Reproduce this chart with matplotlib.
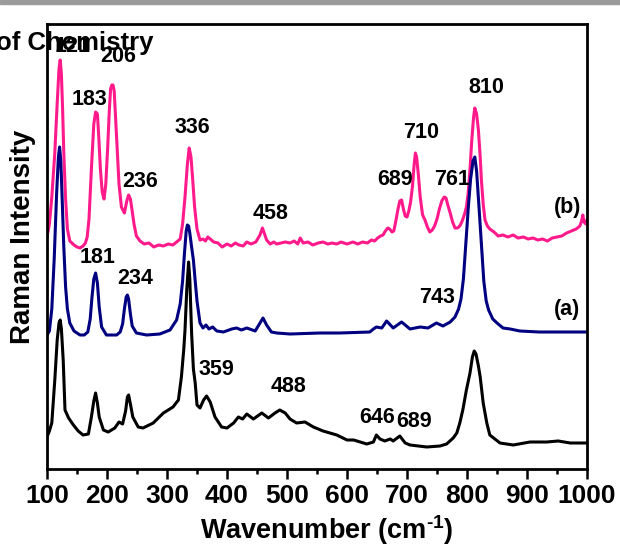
"""Raman spectra of the three samples, redrawn from the published figure."""

import matplotlib

matplotlib.use("Agg")
import matplotlib.pyplot as plt
from matplotlib.patches import Rectangle

plt.rcParams["font.family"] = ["Liberation Sans", "DejaVu Sans"]
plt.rcParams["font.weight"] = "bold"
plt.rcParams["mathtext.fontset"] = "custom"
plt.rcParams["mathtext.rm"] = "Liberation Sans:bold"
plt.rcParams["mathtext.bf"] = "Liberation Sans:bold"
plt.rcParams["mathtext.default"] = "bf"

# (wavenumber, intensity), intensity in arbitrary offset units
black_pts = [
    (100, 32), (104, 38), (108, 46), (113, 89), (117, 129), (120, 146), (122, 149),
    (124, 140), (127, 109), (130, 59), (136, 51), (144, 44), (152, 38), (160, 34),
    (169, 35), (174, 52), (178, 68), (181, 76), (184, 66), (187, 52), (194, 39),
    (202, 37), (213, 41), (220, 47), (226, 45), (231, 58), (234, 72), (236, 74),
    (239, 65), (243, 52), (252, 42), (260, 41), (277, 46), (294, 56), (310, 62),
    (319, 69), (324, 92), (328, 120), (330, 139), (333, 180), (336, 207), (338, 190),
    (341, 136), (344, 100), (347, 86), (350, 64), (355, 61), (361, 69), (366, 73),
    (372, 67), (380, 52), (391, 42), (400, 41), (411, 46), (419, 52), (426, 50),
    (433, 55), (444, 50), (458, 56), (469, 51), (480, 56), (488, 59), (497, 56),
    (505, 50), (516, 46), (530, 47), (544, 42), (560, 38), (583, 34), (600, 29),
    (611, 29), (633, 25), (644, 27), (649, 34), (655, 30), (663, 28), (672, 30),
    (677, 28), (688, 33), (697, 26), (705, 24), (733, 22), (755, 23), (766, 25),
    (777, 31), (783, 36), (788, 46), (793, 59), (799, 79), (805, 96), (809, 112),
    (812, 118), (815, 115), (819, 103), (822, 92), (827, 66), (833, 46), (838, 34),
    (855, 26), (877, 24), (905, 27), (933, 27), (952, 28), (972, 26), (1000, 26),
]

navy_pts = [
    (100, 134), (104, 138), (108, 160), (112, 210), (116, 275), (119, 312), (121, 322),
    (123, 308), (125, 275), (128, 222), (131, 182), (134, 160), (138, 146), (145, 138),
    (155, 134), (162, 134), (168, 137), (172, 150), (175, 172), (178, 190), (181, 196),
    (184, 186), (187, 162), (191, 142), (199, 134), (216, 134), (222, 137), (226, 145),
    (229, 160), (232, 172), (234, 174), (236, 170), (239, 155), (242, 143), (249, 136),
    (266, 134), (288, 135), (305, 139), (316, 149), (322, 165), (326, 188), (329, 215),
    (332, 238), (334, 244), (336, 243), (338, 236), (341, 222), (344, 209), (347, 188),
    (350, 168), (355, 146), (360, 141), (365, 144), (370, 140), (376, 142), (383, 138),
    (394, 137), (408, 140), (416, 141), (424, 139), (433, 141), (447, 138), (455, 146),
    (460, 151), (466, 144), (474, 137), (483, 136), (505, 135), (555, 136), (588, 136),
    (638, 137), (644, 140), (649, 142), (658, 141), (666, 148), (677, 141), (691, 147),
    (705, 140), (722, 142), (735, 141), (749, 146), (760, 143), (772, 147), (780, 152),
    (786, 160), (790, 170), (794, 190), (798, 225), (802, 260), (806, 290), (810, 308),
    (813, 312), (816, 298), (820, 262), (824, 225), (828, 188), (832, 168), (836, 159),
    (843, 150), (850, 146), (860, 141), (872, 140), (888, 138), (920, 137), (960, 137),
    (1000, 137),
]

pink_pts = [
    (100, 232), (104, 245), (108, 272), (113, 316), (117, 366), (120, 400), (122, 409),
    (124, 395), (126, 360), (128, 316), (131, 270), (134, 240), (138, 228), (145, 224),
    (150, 222), (155, 221), (160, 223), (164, 226), (167, 232), (170, 250), (174, 300),
    (178, 345), (181, 357), (184, 355), (186, 335), (189, 300), (192, 277), (195, 270),
    (198, 285), (201, 320), (204, 360), (206, 380), (208, 384), (210, 384), (212, 378),
    (214, 355), (217, 320), (220, 285), (224, 262), (229, 256), (233, 268), (236, 274),
    (239, 270), (242, 258), (245, 245), (249, 233), (255, 228), (262, 225), (270, 226),
    (278, 222), (286, 224), (294, 223), (302, 225), (310, 224), (316, 227), (322, 230),
    (326, 245), (330, 272), (334, 305), (337, 321), (340, 312), (343, 288), (346, 262),
    (350, 240), (355, 229), (360, 230), (364, 228), (368, 232), (372, 230), (378, 227),
    (385, 226), (392, 222), (400, 225), (407, 223), (414, 226), (420, 224), (427, 223),
    (433, 227), (440, 225), (448, 227), (455, 234), (459, 241), (462, 236), (466, 229),
    (472, 225), (478, 227), (483, 225), (490, 226), (497, 227), (505, 226), (512, 228),
    (518, 225), (522, 231), (527, 226), (535, 227), (543, 224), (552, 226), (560, 227),
    (568, 225), (575, 226), (583, 225), (590, 227), (600, 225), (610, 227), (618, 225),
    (626, 227), (634, 226), (641, 229), (646, 228), (651, 231), (656, 233), (660, 234),
    (664, 238), (668, 241), (671, 240), (675, 237), (678, 238), (682, 250), (685, 260),
    (688, 268), (691, 269), (694, 260), (697, 253), (700, 252), (703, 258), (706, 267),
    (709, 282), (712, 305), (714, 316), (716, 312), (719, 294), (722, 272), (726, 254),
    (730, 249), (734, 242), (738, 237), (742, 239), (746, 243), (750, 250), (754, 260),
    (758, 268), (762, 272), (765, 271), (768, 264), (772, 256), (776, 247), (780, 241),
    (784, 241), (788, 243), (792, 248), (796, 255), (799, 262), (802, 276), (805, 300),
    (808, 329), (811, 352), (813, 361), (816, 355), (819, 339), (822, 312), (824, 289),
    (827, 265), (830, 249), (834, 243), (838, 240), (845, 237), (852, 233), (860, 234),
    (868, 232), (877, 234), (885, 231), (894, 232), (902, 230), (910, 231), (918, 229),
    (926, 230), (934, 228), (942, 231), (950, 232), (958, 233), (966, 236), (974, 238),
    (982, 240), (988, 243), (991, 248), (993, 254), (995, 247), (998, 245), (1000, 249),
]

peak_labels = ["121", "206", "183", "236", "336", "458", "181", "234", "710", "689",
               "761", "810", "743", "359", "488", "646", "689"]
peak_label_x = [143, 219, 171, 255, 343, 472, 185, 247, 723, 680,
                775, 833, 750, 382, 503, 650, 712]
peak_label_y = [417, 407, 364, 282, 336, 250, 206, 185, 331, 284,
                284, 376, 166, 94, 77, 46, 42]

series_labels = ["(b)", "(a)"]
series_label_x = [967, 967]
series_label_y = [261, 159]


def main():
    fig = plt.figure(figsize=(6.2, 5.47), dpi=100)
    ax = fig.add_axes([47 / 620, 1 - 469 / 547, 540 / 620, 445 / 547])

    for pts, color, z in [(pink_pts, "#ff1a8c", 1), (navy_pts, "#000080", 2), (black_pts, "black", 3)]:
        xs = [p[0] for p in pts]
        ys = [p[1] for p in pts]
        ax.plot(xs, ys, color=color, lw=2.2, zorder=z, solid_joinstyle="round")

    ax.set_xlim(100, 1000)
    ax.set_ylim(0, 445)
    ax.set_yticks([])
    ax.set_xticks(range(100, 1001, 100))
    ax.set_xticks(range(150, 1000, 100), minor=True)
    ax.tick_params(axis="x", which="major", direction="out", length=7, width=1.8,
                   labelsize=19, pad=4)
    ax.tick_params(axis="x", which="minor", direction="out", length=3.5, width=1.8)
    for spine in ax.spines.values():
        spine.set_linewidth(2)

    ax.set_xlabel(r"Wavenumber (cm$^{\text{-1}}$)", fontsize=19.5, fontweight="bold")
    ax.xaxis.set_label_coords(0.518, -0.1)
    ax.set_ylabel("Raman Intensity", fontsize=20, fontweight="bold")
    ax.yaxis.set_label_coords(-0.02, 0.521)

    for text, x, y in zip(peak_labels, peak_label_x, peak_label_y):
        ax.text(x, y, text, ha="center", va="baseline", fontsize=15.5, fontweight="bold", zorder=5)
    for text, x, y in zip(series_labels, series_label_x, series_label_y):
        ax.text(x, y, text, ha="center", va="center", fontsize=15.5, fontweight="bold", zorder=5)

    # bits of the page that came with the screenshot
    fig.text(153 / 620, 1 - 50 / 547, "of Chemistry", ha="right", va="baseline",
             fontsize=18.5, fontweight="bold")
    fig.patches.append(Rectangle((0, 1 - 4 / 547), 1, 4 / 547, transform=fig.transFigure,
                                 color="#9b9b9b", zorder=0))

    fig.savefig("out.png", dpi=100)
    plt.close(fig)


if __name__ == "__main__":
    main()
